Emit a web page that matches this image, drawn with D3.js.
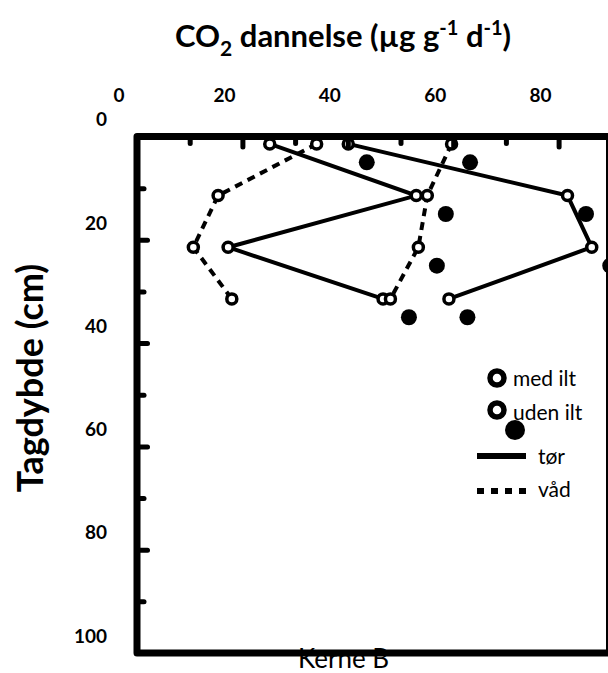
<!DOCTYPE html>
<html>
<head>
<meta charset="utf-8">
<script src="https://cdn.jsdelivr.net/npm/d3@7"></script>
<style>
  body { margin: 0; background: #fff; }
  svg { display: block; font-family: Lato, "Open Sans", sans-serif; }
</style>
</head>
<body>
<div id="chart"></div>
<script>
// CO2 production vs. depth, core B (with / without oxygen, dry / wet)

const depths = [5, 15, 25, 35];
const torMedIlt = [28.7, 56.5, 20.8, 50.2];
const vadMedIlt = [37.6, 18.9, 14.2, 21.5];
const torUdenIlt = [43.6, 85.2, 89.8, 62.7];
const vadUdenIlt = [63.2, 58.6, 56.9, 51.6];

const xTickLabels = [0, 20, 40, 60, 80];
const yTickLabels = [0, 20, 40, 60, 80, 100];
const majorTicks = [20, 40, 60, 80];
const minorTicks = [10, 30, 50, 70, 90];

const W = 608, H = 673;
const LEFT = 137, TOP = 136.5, RIGHT = 607;
// in the source picture labels, lines and open markers sit ~18px up-left of the frame
const SHIFT = [-18.5, -18.4];
const DASH = '8,6';

const x = d3.scaleLinear().domain([0, 100]).range([LEFT, LEFT + 527]);
const y = d3.scaleLinear().domain([0, 100]).range([TOP, TOP + 516.5]);
const BOTTOM = y(100);

const series = [
  { values: torMedIlt, dash: null, uden: false },
  { values: vadMedIlt, dash: DASH, uden: false },
  { values: torUdenIlt, dash: null, uden: true },
  { values: vadUdenIlt, dash: DASH, uden: true },
];

const svg = d3.select('#chart').append('svg')
  .attr('width', W)
  .attr('height', H);

// titles
const title = svg.append('text')
  .attr('x', 175)
  .attr('y', 47)
  .attr('font-size', 31)
  .attr('font-weight', 'bold');
title.append('tspan').text('CO');
title.append('tspan').attr('font-size', 21).attr('dy', 9).text('2');
title.append('tspan').attr('dy', -9).text(' dannelse (µg g');
title.append('tspan').attr('font-size', 20).attr('dy', -12).text('-1');
title.append('tspan').attr('dy', 12).text(' d');
title.append('tspan').attr('font-size', 20).attr('dy', -12).text('-1');
title.append('tspan').attr('dy', 12).text(')');

svg.append('text')
  .attr('transform', 'translate(43,378) rotate(-90)')
  .attr('text-anchor', 'middle')
  .attr('font-size', 36)
  .attr('font-weight', 'bold')
  .text('Tagdybde (cm)');

svg.append('text')
  .attr('x', 298)
  .attr('y', 668)
  .attr('font-size', 26)
  .text('Kerne B');

// shifted layer: tick labels, lines, open markers
const shifted = svg.append('g')
  .attr('transform', `translate(${SHIFT[0]},${SHIFT[1]})`);

const xLabels = shifted.append('g')
  .attr('transform', `translate(0,${TOP})`)
  .call(d3.axisTop(x).tickValues(xTickLabels).tickSize(0).tickPadding(16));
const yLabels = shifted.append('g')
  .attr('transform', `translate(${LEFT},0)`)
  .call(d3.axisLeft(y).tickValues(yTickLabels).tickSize(0).tickPadding(11.5));
[xLabels, yLabels].forEach(g => {
  g.select('.domain').remove();
  g.selectAll('text')
    .attr('font-family', 'Lato, sans-serif')
    .attr('font-size', 19)
    .attr('font-weight', 'bold')
    .attr('fill', '#000');
});
yLabels.selectAll('text').attr('dy', '0.4em');

const line = d3.line()
  .x(d => x(d[0]))
  .y(d => y(d[1]));

series.forEach(s => {
  const pts = s.values.map((v, i) => [v, depths[i]]);
  shifted.append('path')
    .datum(pts)
    .attr('d', line)
    .attr('fill', 'none')
    .attr('stroke', '#000')
    .attr('stroke-width', 4)
    .attr('stroke-dasharray', s.dash);
  shifted.selectAll(null)
    .data(pts)
    .enter()
    .append('circle')
    .attr('cx', d => x(d[0]))
    .attr('cy', d => y(d[1]))
    .attr('r', 5)
    .attr('fill', '#fff')
    .attr('stroke', '#000')
    .attr('stroke-width', 3.5);
});

// frame and inner ticks
svg.append('path')
  .attr('d', `M${W + 5},${TOP}H${LEFT}V${BOTTOM}H${W + 5}`)
  .attr('fill', 'none')
  .attr('stroke', '#000')
  .attr('stroke-width', 7)
  .attr('stroke-linejoin', 'round');
svg.append('line')
  .attr('x1', RIGHT).attr('x2', RIGHT)
  .attr('y1', TOP).attr('y2', BOTTOM)
  .attr('stroke', '#000')
  .attr('stroke-width', 2);

function tickAxis(axis, values, size, transform) {
  const g = svg.append('g')
    .attr('transform', transform)
    .call(axis.tickValues(values).tickSize(-size).tickFormat(''));
  g.select('.domain').remove();
  g.selectAll('line')
    .attr('stroke', '#000')
    .attr('stroke-width', 5)
    .attr('stroke-linecap', 'round');
}
tickAxis(d3.axisTop(x), majorTicks, 10.5, `translate(0,${TOP})`);
tickAxis(d3.axisTop(x), minorTicks, 7, `translate(0,${TOP})`);
tickAxis(d3.axisLeft(y), majorTicks, 10.5, `translate(${LEFT},0)`);
tickAxis(d3.axisLeft(y), minorTicks, 7, `translate(${LEFT},0)`);

// filled markers for the "uden ilt" series (at their true positions)
series.filter(s => s.uden).forEach(s => {
  svg.selectAll(null)
    .data(s.values.map((v, i) => [v, depths[i]]))
    .enter()
    .append('circle')
    .attr('cx', d => x(d[0]))
    .attr('cy', d => y(d[1]))
    .attr('r', 8)
    .attr('fill', '#000');
});

// legend
const legend = svg.append('g').attr('font-size', 21);
legend.append('circle').attr('cx', 497).attr('cy', 378).attr('r', 7)
  .attr('fill', '#fff').attr('stroke', '#000').attr('stroke-width', 5.5);
legend.append('text').attr('x', 513).attr('y', 386).text('med ilt');
legend.append('circle').attr('cx', 497).attr('cy', 410).attr('r', 7)
  .attr('fill', '#fff').attr('stroke', '#000').attr('stroke-width', 5.5);
legend.append('text').attr('x', 513).attr('y', 420).text('uden ilt');
legend.append('circle').attr('cx', 515).attr('cy', 430).attr('r', 10).attr('fill', '#000');
legend.append('line').attr('x1', 477).attr('x2', 526).attr('y1', 456).attr('y2', 456)
  .attr('stroke', '#000').attr('stroke-width', 6);
legend.append('text').attr('x', 538).attr('y', 464).text('tør');
legend.append('line').attr('x1', 477).attr('x2', 526).attr('y1', 491).attr('y2', 491)
  .attr('stroke', '#000').attr('stroke-width', 6).attr('stroke-dasharray', '7,7');
legend.append('text').attr('x', 538).attr('y', 497).text('våd');
</script>
</body>
</html>
